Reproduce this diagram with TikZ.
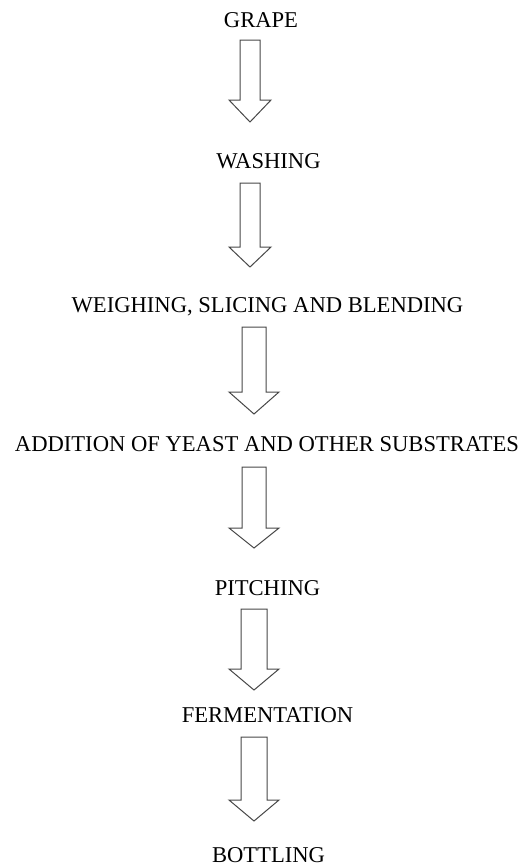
\documentclass[tikz,border=0pt]{standalone}
\usepackage{fontspec}
\setmainfont{Liberation Serif}
\newcommand{\blkarrow}[6]{%
  \draw[arrowline] (#1-#5,#2) -- (#1+#5,#2) -- (#1+#5,#3) -- (#1+#6,#3) -- (#1,#4)
    -- (#1-#6,#3) -- (#1-#5,#3) -- cycle;}
\begin{document}
\begin{tikzpicture}[x=1pt,y=-1pt,
  steptext/.style={anchor=base,inner sep=0pt,text depth=0pt,font=\fontsize{22.6}{26}\selectfont,text=black},
  arrowline/.style={draw=black!72,line width=1pt,fill=white,line join=miter}]
\useasboundingbox (0,0) rectangle (526,868);
\fill[white] (0,0) rectangle (526,868);
\node[steptext] (grape) at (261,27) {GRAPE};
\node[steptext] (wash) at (268.5,168) {WASHING};
\node[steptext] (weigh) at (267.5,312) {WEIGHING, SLICING\ AND BLENDING};
\node[steptext] (add) at (267,451) {ADDITION OF YEAST AND OTHER SUBSTRATES};
\node[steptext] (pitch) at (267.5,595) {PITCHING};
\node[steptext] (ferm) at (267.5,722) {FERMENTATION};
\node[steptext] (bott) at (268.5,862.5) {BOTTLING};
\blkarrow{250}{40}{100}{122}{10}{21}
\blkarrow{250}{183}{247}{267}{10}{21}
\blkarrow{254}{327}{392}{414}{12}{25}
\blkarrow{254}{467}{528}{548}{12}{25}
\blkarrow{254}{609}{669}{690}{13}{25}
\blkarrow{254}{737}{800}{821}{13}{25}
\end{tikzpicture}
\end{document}
